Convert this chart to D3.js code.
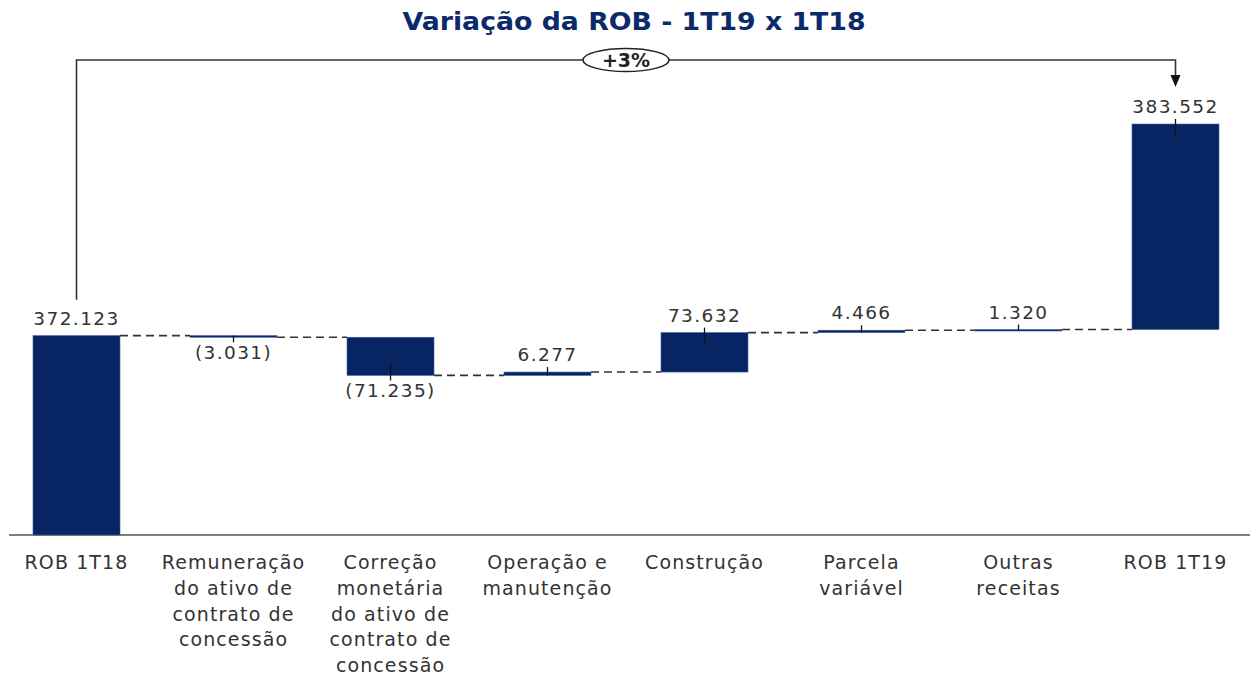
<!DOCTYPE html>
<html>
<head>
<meta charset="utf-8">
<script src="https://cdn.jsdelivr.net/npm/d3@7"></script>
<style>
  body { margin: 0; background: #fff; }
  text { font-family: "DejaVu Sans", Verdana, sans-serif; }
</style>
</head>
<body>
<div id="chart"></div>
<script>
// dados (milhares de R$)
var categories = ["ROB 1T18", "Remuneração", "Correção", "Operação", "Construção", "Parcela", "Outras", "ROB 1T19"];
var catLines = [
    ["ROB 1T18"],
    ["Remuneração", "do ativo de", "contrato de", "concessão"],
    ["Correção", "monetária", "do ativo de", "contrato de", "concessão"],
    ["Operação e", "manutenção"],
    ["Construção"],
    ["Parcela", "variável"],
    ["Outras", "receitas"],
    ["ROB 1T19"]
];
var values = [372123, -3031, -71235, 6277, 73632, 4466, 1320, 383552];
var kinds = ["total", "delta", "delta", "delta", "delta", "delta", "delta", "total"];
var title = "Variação da ROB - 1T19 x 1T18";
var varLabel = "+3%";

var width = 1250, height = 675;
var baseY = 535;
var barColor = "#072463";
var txtColor = "#333";

var svg = d3.select("#chart")
    .append("svg")
    .attr("width", width)
    .attr("height", height);

var x = d3.scaleBand()
    .domain(categories)
    .range([-2, 1254])
    .paddingInner(0.446)
    .paddingOuter(0.223);

var y = d3.scaleLinear()
    .domain([0, 800000])
    .range([baseY, 106.4]);

var ptBR = d3.formatLocale({ decimal: ",", thousands: ".", grouping: [3], currency: ["R$", ""] });
var fmt = ptBR.format(",d");

// monta os degraus
var running = 0;
var steps = values.map(function (v, i) {
    var s = {};
    s.name = categories[i];
    s.value = v;
    if (kinds[i] == "total" && i == 0) {
        s.start = 0; s.end = v; running = v;
    } else if (kinds[i] == "total") {
        // no original a barra final fica apoiada no acumulado
        s.start = running; s.end = running + v;
    } else {
        s.start = running; s.end = running + v; running = running + v;
    }
    s.level = running;
    return s;
});

// titulo
svg.append("text")
    .attr("x", 634)
    .attr("y", 30)
    .attr("text-anchor", "middle")
    .attr("font-size", "24px")
    .attr("font-weight", "bold")
    .attr("fill", "#0b2a6c")
    .attr("textLength", 463)
    .attr("lengthAdjust", "spacingAndGlyphs")
    .text(title);

// eixo base
svg.append("line")
    .attr("x1", 9).attr("x2", width)
    .attr("y1", baseY).attr("y2", baseY)
    .attr("stroke", "#555")
    .attr("stroke-width", 1.5);

// conectores tracejados
for (var i = 0; i < steps.length - 1; i++) {
    svg.append("line")
        .attr("x1", x(categories[i]) + x.bandwidth())
        .attr("x2", x(categories[i + 1]))
        .attr("y1", y(steps[i].level))
        .attr("y2", y(steps[i].level))
        .attr("stroke", "#333")
        .attr("stroke-width", 1.6)
        .attr("stroke-dasharray", "8,5");
}

// barras
svg.append("g")
    .selectAll("rect")
    .data(steps)
    .enter().append("rect")
    .attr("x", function (d) { return x(d.name); })
    .attr("width", x.bandwidth())
    .attr("y", function (d) { return y(Math.max(d.start, d.end)); })
    .attr("height", function (d) { return Math.max(1.5, Math.abs(y(d.start) - y(d.end))); })
    .attr("fill", barColor)
    .attr("stroke", "#3f5f9f")
    .attr("stroke-width", 0.6);

// marcas e rotulos de valor
steps.forEach(function (d) {
    var cx = x(d.name) + x.bandwidth() / 2;
    var h = Math.abs(y(d.start) - y(d.end));
    var inside = Math.min(12, h);
    if (d.value >= 0) {
        var top = y(d.end);
        if (d.name != "ROB 1T18") {
            svg.append("line")
                .attr("x1", cx).attr("x2", cx)
                .attr("y1", top - 5).attr("y2", top + inside)
                .attr("stroke", "#111").attr("stroke-width", 1.3);
        }
        svg.append("text")
            .attr("x", cx)
            .attr("y", top - 11)
            .attr("text-anchor", "middle")
            .attr("font-size", "18.5px")
            .attr("letter-spacing", "1.4px")
            .attr("fill", txtColor)
            .text(fmt(d.value));
    } else {
        var bot = y(d.end);
        svg.append("line")
            .attr("x1", cx).attr("x2", cx)
            .attr("y1", bot - inside).attr("y2", bot + 5)
            .attr("stroke", "#111").attr("stroke-width", 1.3);
        svg.append("text")
            .attr("x", cx)
            .attr("y", bot + 22)
            .attr("text-anchor", "middle")
            .attr("font-size", "18.5px")
            .attr("letter-spacing", "1.4px")
            .attr("fill", txtColor)
            .text("(" + fmt(-d.value) + ")");
    }
});

// rotulos das categorias
var catG = svg.append("g");
catLines.forEach(function (lines, i) {
    var t = catG.append("text")
        .attr("x", x(categories[i]) + x.bandwidth() / 2)
        .attr("y", 569)
        .attr("text-anchor", "middle")
        .attr("font-size", "19px")
        .attr("letter-spacing", "1.1px")
        .attr("fill", txtColor);
    lines.forEach(function (l, j) {
        t.append("tspan")
            .attr("x", x(categories[i]) + x.bandwidth() / 2)
            .attr("dy", j == 0 ? 0 : 25.8)
            .text(l);
    });
});

// colchete da variacao
var x0 = x(categories[0]) + x.bandwidth() / 2;
var x1 = x(categories[7]) + x.bandwidth() / 2;
var topY = 60;
svg.append("path")
    .attr("d", "M" + x0 + "," + (y(steps[0].end) - 36) + "V" + topY + "H" + x1 + "V" + 76)
    .attr("fill", "none")
    .attr("stroke", "#333")
    .attr("stroke-width", 1.6);
svg.append("path")
    .attr("d", "M" + (x1 - 5) + ",75L" + (x1 + 5) + ",75L" + x1 + ",87Z")
    .attr("fill", "#111");

svg.append("ellipse")
    .attr("cx", 626).attr("cy", topY)
    .attr("rx", 43).attr("ry", 11.5)
    .attr("fill", "#fff")
    .attr("stroke", "#222")
    .attr("stroke-width", 1.5);
svg.append("text")
    .attr("x", 626).attr("y", topY + 7)
    .attr("text-anchor", "middle")
    .attr("font-size", "19px")
    .attr("font-weight", "bold")
    .attr("fill", "#222")
    .text(varLabel);
</script>
</body>
</html>
